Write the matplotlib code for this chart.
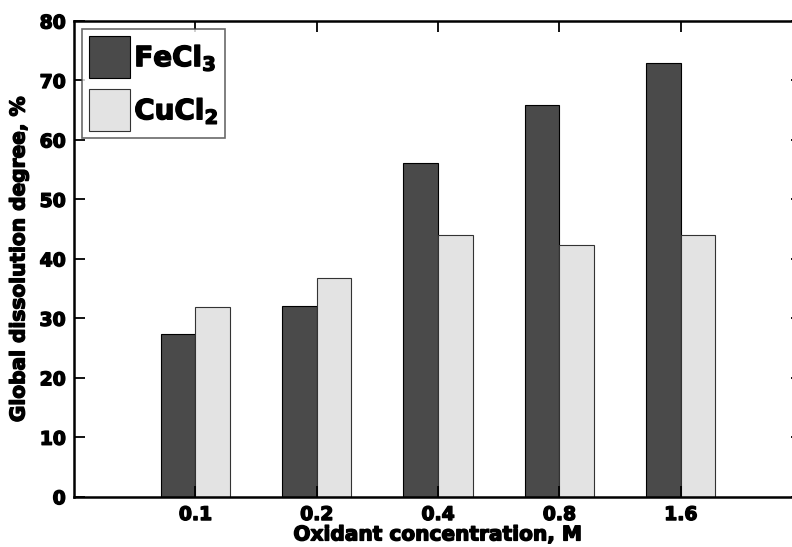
import numpy as np
import matplotlib
matplotlib.use('Agg')
import matplotlib.pyplot as plt
import matplotlib.patheffects as pe

# dissolution degree (%) for each oxidant concentration
conc_labels = ['0.1', '0.2', '0.4', '0.8', '1.6']
fecl3 = [27.4, 32.1, 56.2, 65.8, 72.9]
cucl2 = [31.9, 36.7, 44.0, 42.3, 44.0]

plt.rcParams['font.family'] = ['DejaVu Sans']
plt.rcParams['font.weight'] = 'bold'
plt.rcParams['mathtext.fontset'] = 'dejavusans'

# thicker strokes so the bold text looks heavier
heavy = [pe.withStroke(linewidth=1.0, foreground='black')]

fig = plt.figure(figsize=(7.92, 5.47), dpi=100)
# axes runs a bit past the right edge of the figure
ax = fig.add_axes([74 / 792, 50.3 / 547, 728 / 792, 475.7 / 547])

x = np.arange(1, len(conc_labels) + 1)
w = 0.285
ax.bar(x - w / 2, fecl3, w, color='#4a4a4a', edgecolor='black', linewidth=0.8,
       label='FeCl$_\\mathbf{3}$')
ax.bar(x + w / 2, cucl2, w, color='#e3e3e3', edgecolor='#333333', linewidth=0.8,
       label='CuCl$_\\mathbf{2}$')

ax.set_xlim(0, 6)
ax.set_ylim(0, 80)
ax.set_xticks(x)
ax.set_xticklabels(conc_labels)
ax.set_yticks(np.arange(0, 81, 10))

for s in ax.spines.values():
    s.set_linewidth(1.8)
ax.tick_params(direction='in', length=8, width=1.3, top=True, right=True,
               labelsize=13.5, pad=6)
for lab in ax.get_xticklabels() + ax.get_yticklabels():
    lab.set_fontweight('bold')
    lab.set_path_effects(heavy)

ax.set_xlabel('Oxidant concentration, M', fontsize=14.5, fontweight='bold',
              labelpad=1, path_effects=heavy)
ax.set_ylabel('Global dissolution degree, %', fontsize=14.5, fontweight='bold',
              labelpad=8, path_effects=heavy)

leg = ax.legend(loc='upper left', fontsize=20, frameon=True, fancybox=False,
                handlelength=1.47, handleheight=1.95, labelspacing=0.4,
                handletextpad=0.15, borderpad=0.25, borderaxespad=0.3)
leg.get_frame().set_edgecolor('#444444')
leg.get_frame().set_linewidth(1.2)
for t in leg.get_texts():
    t.set_fontweight('bold')
    t.set_path_effects(heavy)

fig.savefig('out.png', dpi=100)
